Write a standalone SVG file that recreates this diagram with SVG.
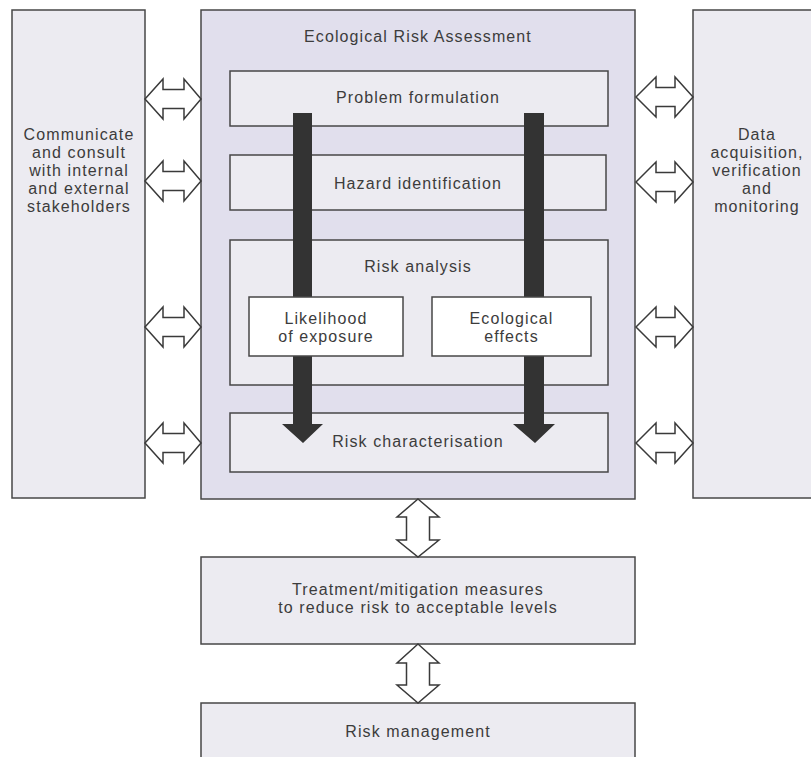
<svg xmlns="http://www.w3.org/2000/svg" width="811" height="757" viewBox="0 0 811 757">
<style>
.box{fill:#ecebf1;stroke:#474747;stroke-width:1.5}
.main{fill:#e1dfed;stroke:#474747;stroke-width:1.5}
.wbox{fill:#ffffff;stroke:#474747;stroke-width:1.5}
.dbl{fill:#ffffff;stroke:#3a3a3a;stroke-width:1.5;stroke-linejoin:miter}
.flow{fill:#333333;stroke:none}
text{font-family:"Liberation Sans",Arial,sans-serif;font-size:16px;letter-spacing:1.1px;fill:#3c3c3c;text-anchor:middle}
</style>
<rect width="811" height="757" fill="#ffffff"/>
<g id="communicate">
<rect class="box" x="12" y="10" width="133" height="488"/>
<text x="79" y="140">Communicate</text>
<text x="79" y="158">and consult</text>
<text x="79" y="176">with internal</text>
<text x="79" y="194">and external</text>
<text x="79" y="212">stakeholders</text>
</g>
<g id="data">
<rect class="box" x="693" y="10" width="125" height="488"/>
<text x="757" y="140">Data</text>
<text x="757" y="158">acquisition,</text>
<text x="757" y="176">verification</text>
<text x="757" y="194">and</text>
<text x="757" y="212">monitoring</text>
</g>
<g id="era">
<rect class="main" x="201" y="10" width="434" height="489"/>
<text x="418" y="42">Ecological Risk Assessment</text>
</g>
<g id="problem">
<rect class="box" x="230" y="71" width="378" height="55"/>
<text x="418" y="103">Problem formulation</text>
</g>
<g id="hazard">
<rect class="box" x="230" y="155" width="376" height="55"/>
<text x="418" y="189">Hazard identification</text>
</g>
<g id="analysis">
<rect class="box" x="230" y="240" width="378" height="145"/>
<text x="418" y="272">Risk analysis</text>
</g>
<g id="characterisation">
<rect class="box" x="230" y="413" width="378" height="59"/>
<text x="418" y="447">Risk characterisation</text>
</g>
<g id="treatment">
<rect class="box" x="201" y="557" width="434" height="87"/>
<text x="418" y="595">Treatment/mitigation measures</text>
<text x="418" y="613">to reduce risk to acceptable levels</text>
</g>
<g id="management">
<rect class="box" x="201" y="703" width="434" height="60"/>
<text x="418" y="737">Risk management</text>
</g>
<g id="connectors">
<path class="flow" d="M293 113 H312 V424 H323 L303 443 L282 424 H293 Z"/>
<path class="flow" d="M524 113 H544 V424 H555 L535 443 L513 424 H524 Z"/>
<path class="dbl" d="M145 99 L163 79 V89.5 H184 V79 L201 99 L184 119 V108.5 H163 V119 Z"/>
<path class="dbl" d="M145 181 L163 161 V171.5 H184 V161 L201 181 L184 201 V190.5 H163 V201 Z"/>
<path class="dbl" d="M145 327 L163 307 V317.5 H184 V307 L201 327 L184 347 V336.5 H163 V347 Z"/>
<path class="dbl" d="M145 443 L163 423 V433.5 H184 V423 L201 443 L184 463 V452.5 H163 V463 Z"/>
<path class="dbl" d="M636 97 L656 77 V87.5 H675 V77 L693 97 L675 117 V106.5 H656 V117 Z"/>
<path class="dbl" d="M636 182 L656 162 V172.5 H675 V162 L693 182 L675 202 V191.5 H656 V202 Z"/>
<path class="dbl" d="M636 327 L656 307 V317.5 H675 V307 L693 327 L675 347 V336.5 H656 V347 Z"/>
<path class="dbl" d="M636 443 L656 423 V433.5 H675 V423 L693 443 L675 463 V452.5 H656 V463 Z"/>
<path class="dbl" d="M418 499 L439 517 H429.5 V540 H439 L418 557 L397 540 H406.5 V517 H397 Z"/>
<path class="dbl" d="M418 644 L439 663 H429.5 V685 H439 L418 703 L397 685 H406.5 V663 H397 Z"/>
</g>
<g id="likelihood">
<rect class="wbox" x="249" y="297" width="154" height="59"/>
<text x="326" y="324">Likelihood</text>
<text x="326" y="342">of exposure</text>
</g>
<g id="effects">
<rect class="wbox" x="432" y="297" width="159" height="59"/>
<text x="511.5" y="324">Ecological</text>
<text x="511.5" y="342">effects</text>
</g>
</svg>
